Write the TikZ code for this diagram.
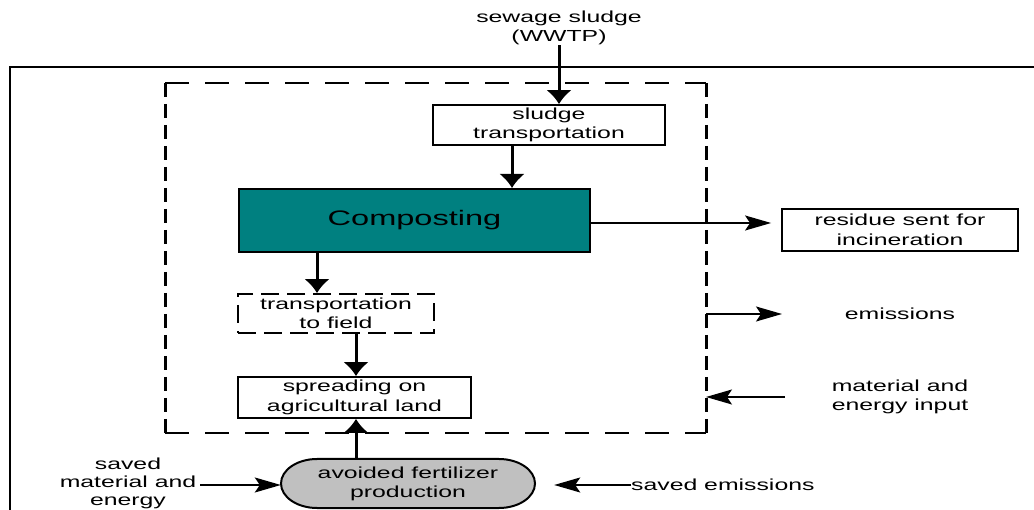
\documentclass[tikz,border=0pt]{standalone}
\usepackage{fontspec}
\setmainfont{Liberation Sans}[FakeStretch=1.55]
\usetikzlibrary{arrows.meta}
\definecolor{tealfill}{RGB}{0,128,128}
\definecolor{grayfill}{RGB}{192,192,192}
\begin{document}
\begin{tikzpicture}[x=1pt,y=-1pt,
  txt/.style={font=\fontsize{16}{19.5}\selectfont, align=center, inner sep=0pt},
  box/.style={txt, draw, line width=1.8pt, fill=white},
  varrow/.style={line width=3pt, -{Latex[length=14pt,width=26pt]}},
  harrow/.style={line width=1.5pt, -{Stealth[length=26pt,width=15pt,inset=5pt]}},
]
\useasboundingbox (0,0) rectangle (1034,510);
% outer frame
\draw[line width=2pt] (10,515) -- (10,67) -- (1040,67);
% dashed system boundary
\draw[line width=2.5pt, dash pattern=on 24pt off 16pt] (165,83) -- (706,83);
\draw[line width=2.5pt, dash pattern=on 24pt off 16pt] (165,433) -- (706,433);
\draw[line width=3pt, dash pattern=on 14pt off 7pt] (165,83) -- (165,433);
\draw[line width=3pt, dash pattern=on 14pt off 7pt] (706,83) -- (706,433);
% nodes
\node[txt] (sew) at (559,28) {sewage sludge\\(WWTP)};
\node[box, minimum width=232, minimum height=40] (sludge) at (549,125) {sludge\\transportation};
\node[draw, line width=2pt, fill=tealfill, minimum width=351, minimum height=63, inner sep=0pt,
      font=\fontsize{21}{25}\selectfont] (comp) at (414.5,220.5) {Composting};
\node[box, minimum width=236, minimum height=42] (res) at (900,230) {residue sent for\\incineration};
\node[box, dash pattern=on 18pt off 8pt, minimum width=196, minimum height=39] (trans) at (336,313.5) {transportation\\to field};
\node[box, minimum width=233, minimum height=41] (spread) at (354.5,397.5) {spreading on\\agricultural land};
\draw[line width=2pt, fill=grayfill] (317,459) -- (499,459)
   arc[start angle=90, end angle=-90, x radius=36pt, y radius=24.5pt] -- (317,508)
   arc[start angle=270, end angle=90, x radius=36pt, y radius=24.5pt] -- cycle;
\node[txt, minimum width=254, minimum height=49] (avoid) at (408,484) {avoided fertilizer\\production};
\node[txt] (em) at (900,314) {emissions};
\node[txt] (mat) at (900,397) {material and\\energy input};
\node[txt, font=\fontsize{16}{18}\selectfont] (sme) at (128,483) {saved\\material and\\energy};
\node[txt, anchor=west] (se) at (631,485) {saved emissions};
% connector coordinates
\coordinate (a1) at (512,0);
\coordinate (a2) at (317,0);
\coordinate (a3) at (356,0);
\coordinate (a4) at (0,223);
\coordinate (e1) at (706,314);
\coordinate (e2) at (782,314);
\coordinate (m1) at (785,397);
\coordinate (m2) at (706,397);
\coordinate (s1) at (0,485);
% connectors
\draw[varrow] (sew.south) -- (sew.south |- sludge.north);
\draw[varrow] (sludge.south -| a1) -- (comp.north -| a1);
\draw[varrow] (comp.south -| a2) -- (trans.north -| a2);
\draw[varrow] (trans.south -| a3) -- (spread.north -| a3);
\draw[varrow] (avoid.north -| a3) -- (spread.south -| a3);
\draw[harrow, shorten >=10pt] (comp.east |- a4) -- (res.west |- a4);
\draw[harrow] (e1) -- (e2);
\draw[harrow] (m1) -- (m2);
\draw[harrow] ([xshift=4pt]sme.east |- s1) -- (avoid.west |- s1);
\draw[harrow, shorten >=19pt] (se.west |- s1) -- (avoid.east |- s1);
\end{tikzpicture}
\end{document}
